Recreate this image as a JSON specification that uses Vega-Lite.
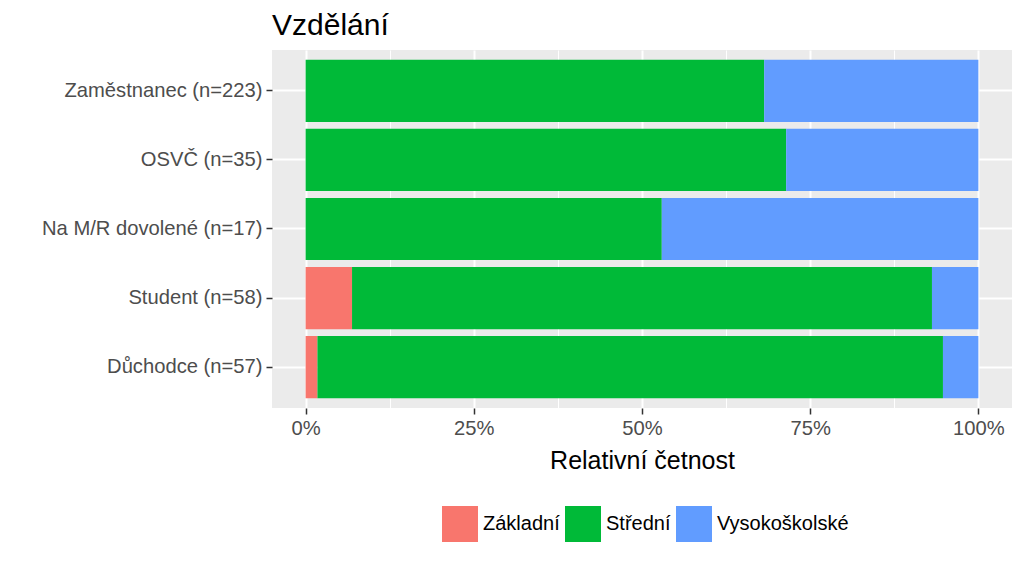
{
  "$schema": "https://vega.github.io/schema/vega-lite/v6.json",
  "width": 740,
  "height": 358,
  "autosize": {"type": "none"},
  "padding": {"left": 272, "top": 50, "right": 12, "bottom": 161},
  "background": "white",
  "title": {"text": "Vzdělání", "anchor": "start", "frame": "group", "font": "Liberation Sans", "fontSize": 30, "fontWeight": "normal", "color": "black", "offset": 9},
  "data": {
    "values": [
      {"kategorie": "Zaměstnanec (n=223)", "vzdelani": "Střední", "pocet": 152},
      {"kategorie": "Zaměstnanec (n=223)", "vzdelani": "Vysokoškolské", "pocet": 71},
      {"kategorie": "OSVČ (n=35)", "vzdelani": "Střední", "pocet": 25},
      {"kategorie": "OSVČ (n=35)", "vzdelani": "Vysokoškolské", "pocet": 10},
      {"kategorie": "Na M/R dovolené (n=17)", "vzdelani": "Střední", "pocet": 9},
      {"kategorie": "Na M/R dovolené (n=17)", "vzdelani": "Vysokoškolské", "pocet": 8},
      {"kategorie": "Student (n=58)", "vzdelani": "Základní", "pocet": 4},
      {"kategorie": "Student (n=58)", "vzdelani": "Střední", "pocet": 50},
      {"kategorie": "Student (n=58)", "vzdelani": "Vysokoškolské", "pocet": 4},
      {"kategorie": "Důchodce (n=57)", "vzdelani": "Základní", "pocet": 1},
      {"kategorie": "Důchodce (n=57)", "vzdelani": "Střední", "pocet": 53},
      {"kategorie": "Důchodce (n=57)", "vzdelani": "Vysokoškolské", "pocet": 3}
    ]
  },
  "transform": [
    {"calculate": "indexof(['Základní','Střední','Vysokoškolské'], datum.vzdelani)", "as": "poradi"}
  ],
  "mark": {"type": "bar"},
  "encoding": {
    "y": {
      "field": "kategorie",
      "type": "nominal",
      "sort": ["Zaměstnanec (n=223)", "OSVČ (n=35)", "Na M/R dovolené (n=17)", "Student (n=58)", "Důchodce (n=57)"],
      "scale": {"paddingInner": 0.1, "paddingOuter": 0.14},
      "axis": {
        "title": null,
        "domain": false,
        "grid": true,
        "gridColor": "white",
        "gridWidth": 2,
        "ticks": true,
        "tickColor": "#333333",
        "tickSize": 6,
        "tickWidth": 1.5,
        "labelFont": "Liberation Sans",
        "labelFontSize": 20.2,
        "labelColor": "#4D4D4D",
        "labelPadding": 4,
        "labelLimit": 0
      }
    },
    "x": {
      "field": "pocet",
      "type": "quantitative",
      "stack": "normalize",
      "scale": {"domain": [-0.05, 1.05], "nice": false, "zero": false},
      "axis": {
        "title": "Relativní četnost",
        "titleFont": "Liberation Sans",
        "titleFontSize": 25,
        "titleFontWeight": "normal",
        "titleColor": "black",
        "titlePadding": 10,
        "values": [0, 0.125, 0.25, 0.375, 0.5, 0.625, 0.75, 0.875, 1],
        "labelExpr": "round(datum.value*1000) % 250 == 0 ? format(datum.value, '.0%') : ''",
        "domain": false,
        "grid": true,
        "gridColor": "white",
        "gridWidth": {"condition": {"test": "round(datum.value*1000) % 250 == 0", "value": 2}, "value": 1},
        "tickColor": "#333333",
        "tickOpacity": {"condition": {"test": "round(datum.value*1000) % 250 == 0", "value": 1}, "value": 0},
        "tickSize": 6,
        "tickWidth": 1.5,
        "labelFont": "Liberation Sans",
        "labelFontSize": 20.2,
        "labelColor": "#4D4D4D",
        "labelPadding": 4,
        "labelOverlap": false,
        "labelFlush": false
      }
    },
    "color": {
      "field": "vzdelani",
      "type": "nominal",
      "sort": ["Základní", "Střední", "Vysokoškolské"],
      "scale": {"domain": ["Základní", "Střední", "Vysokoškolské"], "range": ["#F8766D", "#00BA38", "#619CFF"]},
      "legend": {
        "title": null,
        "orient": "none",
        "direction": "horizontal",
        "legendX": 170,
        "legendY": 456,
        "symbolType": "square",
        "symbolSize": 1296,
        "symbolStrokeWidth": 0,
        "symbolOpacity": 1,
        "labelFont": "Liberation Sans",
        "labelFontSize": 20,
        "labelColor": "black",
        "labelOffset": 5,
        "columnPadding": 5
      }
    },
    "order": {"field": "poradi", "type": "quantitative"}
  },
  "config": {
    "view": {"fill": "#EBEBEB", "stroke": null},
    "font": "Liberation Sans"
  }
}
